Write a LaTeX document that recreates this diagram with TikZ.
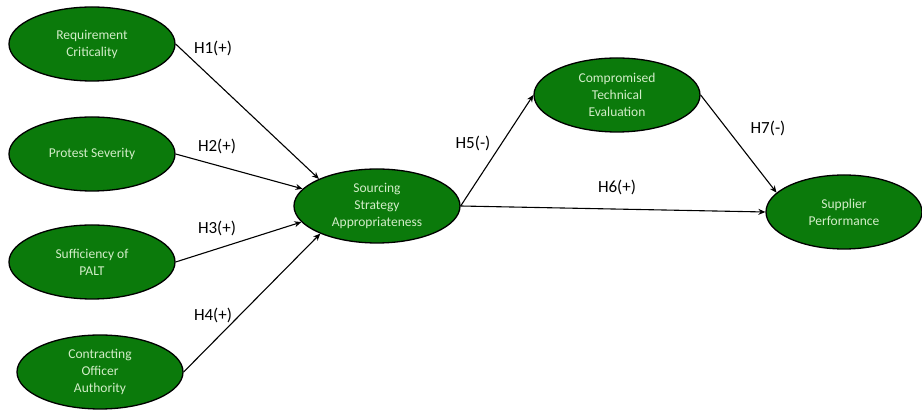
\documentclass[tikz,border=0pt]{standalone}
\usepackage{fontspec}
\setmainfont{Carlito}
\usetikzlibrary{
    positioning,
    calc,
    shapes.geometric,
    arrows.meta
}
\definecolor{ConstructGreen}{HTML}{0B7A0B}
\definecolor{ConstructText}{HTML}{D2EDC8}

\begin{document}
\begin{tikzpicture}[
    x=1pt, y=-1pt,
    construct/.style={
        ellipse,
        draw=black,
        line width=1.3pt,
        fill=ConstructGreen,
        text=ConstructText,
        minimum width=166pt,
        minimum height=74pt,
        inner sep=0pt,
        align=center,
        font=\fontsize{13.5}{17}\selectfont
    },
    hyp/.style={-{Stealth[length=7pt,width=6pt]}, line width=1.1pt},
    hyplabel/.style={font=\fontsize{17}{19}\selectfont}
]
    \useasboundingbox (0,0) rectangle (922,411);

    % constructs
    \node[construct] (req)  at (92,44)   {Requirement\\Criticality};
    \node[construct] (prot) at (92,154)  {Protest Severity};
    \node[construct] (suff) at (92,262)  {Sufficiency of\\PALT};
    \node[construct] (auth) at (100,372) {Contracting\\Officer\\Authority};
    \node[construct] (ssa)  at (377,206) {Sourcing\\Strategy\\Appropriateness};
    \node[construct] (cte)  at (617,95)  {Compromised\\Technical\\Evaluation};
    \node[construct, minimum width=156pt] (sup) at (844,212) {Supplier\\Performance};

    % hypotheses
    \draw[hyp] (req.east)  -- (ssa.155);
    \draw[hyp] (prot.east) -- (ssa.167);
    \draw[hyp] (suff.east) -- (ssa.192);
    \draw[hyp] (auth.east) -- (ssa.206);
    \draw[hyp] (ssa.east)  -- (cte.west);
    \draw[hyp] (ssa.east)  -- (sup.west);
    \draw[hyp] (cte.east)  -- (sup.164);

    \node[hyplabel] (h1) at (213,48)  {H1(+)};
    \node[hyplabel] (h2) at (217,146) {H2(+)};
    \node[hyplabel] (h3) at (217,228) {H3(+)};
    \node[hyplabel] (h4) at (213,315) {H4(+)};
    \node[hyplabel] (h5) at (473,143) {H5(-)};
    \node[hyplabel] (h6) at (617,187) {H6(+)};
    \node[hyplabel] (h7) at (768,128) {H7(-)};
\end{tikzpicture}
\end{document}
